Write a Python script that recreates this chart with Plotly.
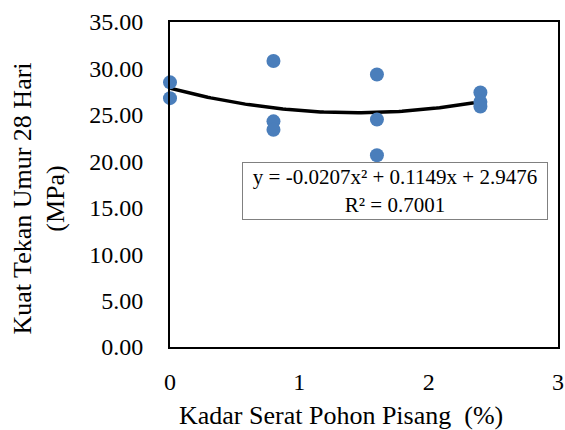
import numpy as np
import plotly.graph_objects as go

x_vals = [0, 0, 0.8, 0.8, 0.8, 1.6, 1.6, 1.6, 2.4, 2.4, 2.4]
y_vals = [28.5, 26.8, 30.8, 24.3, 23.4, 29.35, 24.5, 20.65, 27.4, 26.4, 25.9]
x_ticks = [0, 1, 2, 3]
y_ticks = [0, 5, 10, 15, 20, 25, 30, 35]
eq_text = "y = -0.0207x² + 0.1149x + 2.9476<br>R² = 0.7001"
x_title = "Kadar Serat Pohon Pisang  (%)"
y_title = "Kuat Tekan Umur 28 Hari<br>(MPa)"

coef = np.polyfit(x_vals, y_vals, 2)
xt = np.linspace(0, 2.4, 100)
yt = np.polyval(coef, xt)

font = "Liberation Serif"

fig = go.Figure()
fig.add_trace(go.Scatter(x=xt, y=yt, mode="lines", cliponaxis=False,
                         line=dict(color="black", width=3.5), showlegend=False))
fig.add_trace(go.Scatter(x=x_vals, y=y_vals, mode="markers", cliponaxis=False,
                         marker=dict(color="#4A7EBB", size=14), showlegend=False))

fig.add_annotation(x=0.553, y=19.9, xref="x", yref="y", text=eq_text,
                   showarrow=False, xanchor="left", yanchor="top",
                   font=dict(family=font, size=21, color="black"),
                   bordercolor="#808080", borderwidth=1, bgcolor="white",
                   borderpad=1, align="center", width=302, height=54)

# axis titles as annotations (placed like the reference)
fig.add_annotation(x=0.4407, y=0, xref="paper", yref="paper", text=x_title,
                   showarrow=False, xanchor="center", yanchor="top", yshift=-52,
                   font=dict(family=font, size=26, color="black"))
fig.add_annotation(x=0, y=0.5, xref="paper", yref="paper", text=y_title,
                   showarrow=False, xanchor="right", yanchor="middle",
                   xshift=-98, yshift=-14.5, textangle=-90,
                   font=dict(family=font, size=26, color="black"))

fig.update_layout(
    width=565, height=430,
    margin=dict(l=170, r=7, t=22, b=83),
    plot_bgcolor="white", paper_bgcolor="white",
    font=dict(family=font, size=24, color="black"),
    xaxis=dict(range=[0, 3], tickvals=x_ticks, ticktext=[str(v) for v in x_ticks],
               showgrid=False, zeroline=False, showline=True, linecolor="black",
               linewidth=2, mirror=True, ticks="", ticklabelstandoff=12,
               automargin=False),
    yaxis=dict(range=[0, 35], tickvals=y_ticks, ticktext=[f"{v:.2f}" for v in y_ticks],
               showgrid=False, zeroline=False, showline=True, linecolor="black",
               linewidth=2, mirror=True, ticks="", ticklabelstandoff=20,
               automargin=False),
)

fig.write_html("out.html")
